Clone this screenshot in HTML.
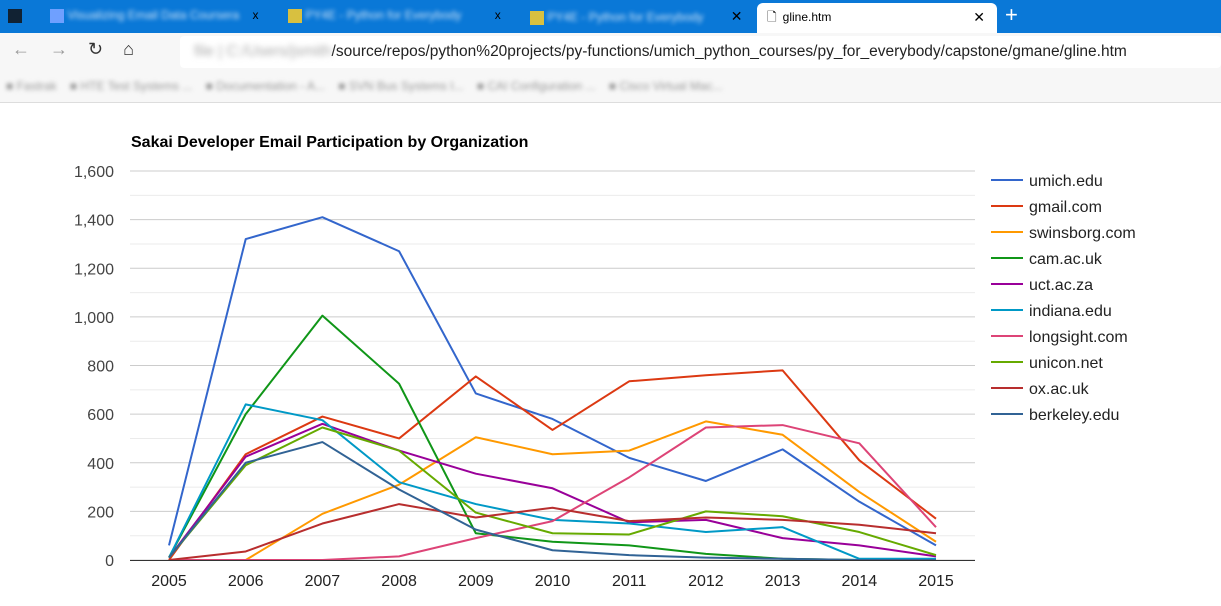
<!DOCTYPE html>
<html><head><meta charset="utf-8"><style>
body{margin:0;width:1221px;height:606px;overflow:hidden;background:#fff;font-family:"Liberation Sans",Arial,sans-serif;position:relative}
.abs{position:absolute}
</style></head><body>
<div class="abs" style="left:0;top:0;width:1221px;height:33px;background:#0a78d7"></div>
<div class="abs" style="left:8px;top:9px;width:14px;height:14px;background:#123"></div>
<div class="abs" style="left:50px;top:8px;width:220px;height:18px;color:#cfe3f7;font-size:12px">
 <span style="display:inline-block;width:14px;height:14px;background:#6fa0ff;vertical-align:middle"></span> <span style="filter:blur(2px)">Visualizing Email Data Coursera</span> <span style="color:#000;margin-left:10px">x</span></div>
<div class="abs" style="left:288px;top:8px;width:230px;height:18px;color:#cfe3f7;font-size:12px">
 <span style="display:inline-block;width:14px;height:14px;background:#d8c040;vertical-align:middle"></span> <span style="filter:blur(2px)">PY4E - Python for Everybody</span> <span style="color:#000;margin-left:30px">x</span></div>
<div class="abs" style="left:530px;top:8px;width:220px;height:18px;color:#cfe3f7;font-size:12px">
 <span style="display:inline-block;width:14px;height:14px;background:#d8c040;vertical-align:middle"></span> <span style="filter:blur(2px)">PY4E - Python for Everybody</span> <span style="color:#000;margin-left:24px;font-size:14px">✕</span></div>
<div class="abs" style="left:757px;top:3px;width:240px;height:31px;background:#fff;border-radius:6px 6px 0 0;font-size:12px;line-height:28px">
 <span style="margin-left:10px">🗋</span><span style="margin-left:6px">gline.htm</span><span style="position:absolute;right:12px;font-size:14px">✕</span></div>
<div class="abs" style="left:1005px;top:2px;color:#fff;font-size:22px">+</div>
<div class="abs" style="left:0;top:33px;width:1221px;height:37px;background:#f7f7f7"></div>
<div class="abs" style="left:12px;top:39px;font-size:18px;color:#999;letter-spacing:20px">←→<span style="color:#333">↻⌂</span></div>
<div class="abs" style="left:180px;top:36px;width:1041px;height:32px;background:#fff;border-radius:4px;font-size:15.5px;line-height:32px;color:#222;white-space:nowrap;overflow:hidden">
 <span style="filter:blur(3px);color:#aaa;margin-left:14px">file | C:/Users/jsmith</span>/source/repos/python%20projects/py-functions/umich_python_courses/py_for_everybody/capstone/gmane/gline.htm</div>
<div class="abs" style="left:0;top:70px;width:1221px;height:32px;background:#f7f7f7;border-bottom:1px solid #ddd;font-size:12px;line-height:32px;color:#999;white-space:nowrap">
 <span style="filter:blur(2px);margin-left:6px">■ Fastrak &nbsp;&nbsp; ■ HTE Test Systems ... &nbsp;&nbsp; ■ Documentation - A... &nbsp;&nbsp; ■ SVN Bus Systems I... &nbsp;&nbsp; ■ CAI Configuration ... &nbsp;&nbsp; ■ Cisco Virtual Mac...</span></div>

<svg class="abs" style="left:0;top:103px" width="1221" height="503">
 <g id="chart" transform="translate(0,-103)"></g>
</svg>
<script>
const years=[2005,2006,2007,2008,2009,2010,2011,2012,2013,2014,2015];
const yTicks=[0,200,400,600,800,1000,1200,1400,1600];
const seriesNames=["umich.edu","gmail.com","swinsborg.com","cam.ac.uk","uct.ac.za","indiana.edu","longsight.com","unicon.net","ox.ac.uk","berkeley.edu"];
const seriesColors=["#3366cc","#dc3912","#ff9900","#109618","#990099","#0099c6","#dd4477","#66aa00","#b82e2e","#316395"];
const umich=[60,1320,1410,1270,685,580,420,325,455,240,60];
const gmail=[0,435,590,500,755,535,735,760,780,410,170];
const swinsborg=[0,0,190,310,505,435,450,570,515,280,75];
const cam=[10,600,1005,725,110,75,60,25,5,0,0];
const uct=[10,425,560,450,355,295,155,165,90,60,15];
const indiana=[10,640,575,320,230,165,150,115,135,5,5];
const longsight=[0,0,0,15,90,160,340,545,555,480,135];
const unicon=[10,390,545,450,195,110,105,200,180,115,20];
const ox=[0,35,150,230,175,215,160,175,165,145,110];
const berkeley=[10,400,485,290,125,40,20,10,5,0,0];
const seriesValues=[umich,gmail,swinsborg,cam,uct,indiana,longsight,unicon,ox,berkeley];

const NS="http://www.w3.org/2000/svg";
const g=document.getElementById('chart');
const x=i=>169+i*(936-169)/(years.length-1);
const y=v=>560-v*(560-171)/1600;
function mk(t,a){const e=document.createElementNS(NS,t);for(const k in a)e.setAttribute(k,a[k]);g.appendChild(e);return e;}
for(let v=0;v<=1600;v+=100){
 const l=mk('line',{x1:130,x2:975,y1:y(v),y2:y(v),stroke:v%200?'#ebebeb':'#cccccc','stroke-width':1});
 
 
}
yTicks.forEach(v=>{
 const t=mk('text',{x:114,y:y(v)+6,'text-anchor':'end','font-size':16,fill:'#444'});
 t.textContent=v.toLocaleString('en-US');
 
 
});
years.forEach((yr,i)=>{
 const t=mk('text',{x:x(i),y:586,'text-anchor':'middle','font-size':16,fill:'#222'});
 t.textContent=yr;
 
 
});
seriesValues.forEach((vals,s)=>{
 const p=mk('polyline',{points:vals.map((v,i)=>x(i)+','+y(v)).join(' '),fill:'none',stroke:seriesColors[s],'stroke-width':2,'stroke-linejoin':'round'});
 
 
});
const ax=mk('line',{x1:130,x2:975,y1:560.5,y2:560.5,stroke:'#333','stroke-width':1});


const title=mk('text',{x:131,y:147,'font-size':16,'font-weight':'bold',fill:'#000'});
title.textContent='Sakai Developer Email Participation by Organization';


seriesNames.forEach((n,s)=>{
 const yy=180+s*26;
 const l=mk('line',{x1:991,x2:1023,y1:yy,y2:yy,stroke:seriesColors[s],'stroke-width':2});
 
 
 const t=mk('text',{x:1029,y:yy+6,'font-size':16,fill:'#222'});
 t.textContent=n;
 
 
});
</script>
</body></html>
